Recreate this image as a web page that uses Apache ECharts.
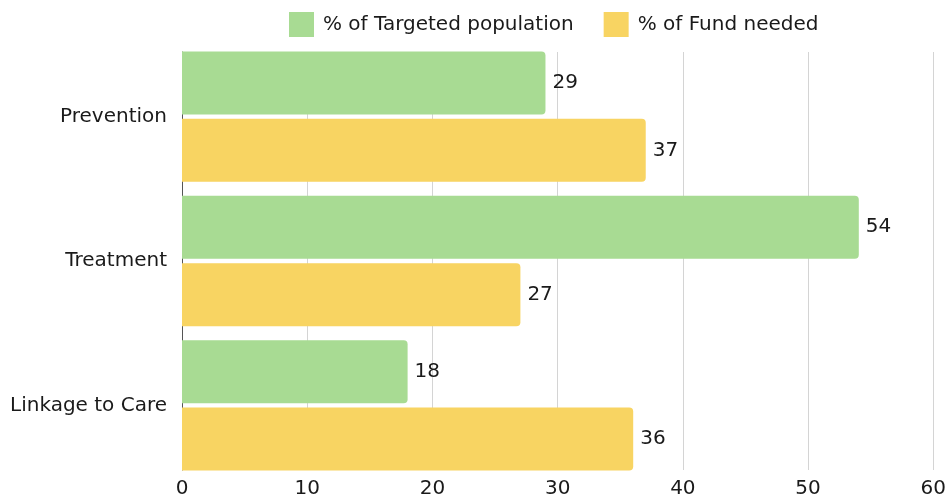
<!DOCTYPE html>
<html>
<head>
<meta charset="utf-8">
<script src="https://cdn.jsdelivr.net/npm/echarts@6/dist/echarts.min.js"></script>
<style>
  html, body { margin: 0; padding: 0; background: #fff; }
  #chart { width: 949px; height: 500px; }
</style>
</head>
<body>
<div id="chart"></div>
<script>
const categories = ['Prevention', 'Treatment', 'Linkage to Care']
const targetedPopulation = [29, 54, 18]
const fundNeeded = [37, 27, 36]
const xTicks = { min: 0, max: 60, interval: 10 }

const font = 'DejaVu Sans'
const textColor = '#1a1a1a'

const chart = echarts.init(document.getElementById('chart'))

const barLabel = {
  show: true,
  position: 'right',
  distance: 7,
  color: textColor,
  fontFamily: font,
  fontSize: 20
}

const option = {
  animation: false,
  legend: {
    left: 284,
    top: 7,
    itemWidth: 25,
    itemHeight: 25,
    itemGap: 30,
    icon: 'rect',
    textStyle: { color: textColor, fontFamily: font, fontSize: 20, padding: [0, 0, 0, 4] },
    data: ['% of Targeted population', '% of Fund needed']
  },
  grid: [
    // grid lines / x labels
    { left: 182, right: 15, top: 52, bottom: 30 },
    // bars
    { left: 182, right: 15, top: 44.5, bottom: 22.5 }
  ],
  xAxis: [
    {
      gridIndex: 0,
      type: 'value',
      min: xTicks.min,
      max: xTicks.max,
      interval: xTicks.interval,
      axisLine: { show: false },
      axisTick: { show: false },
      axisLabel: { color: textColor, fontFamily: font, fontSize: 20, margin: 9 },
      splitLine: { lineStyle: { color: '#d4d4d4', width: 1 } }
    },
    {
      gridIndex: 1,
      type: 'value',
      min: xTicks.min,
      max: xTicks.max,
      interval: xTicks.interval,
      show: false,
      splitLine: { show: false }
    }
  ],
  yAxis: [
    {
      gridIndex: 0,
      type: 'category',
      data: categories,
      inverse: true,
      axisLine: { show: true, lineStyle: { color: '#555', width: 1 } },
      axisTick: { show: false },
      axisLabel: { show: false }
    },
    {
      gridIndex: 1,
      type: 'category',
      data: categories,
      inverse: true,
      axisLine: { show: false },
      axisTick: { show: false },
      axisLabel: { color: textColor, fontFamily: font, fontSize: 20, margin: 15 }
    }
  ],
  series: [
    {
      name: '% of Targeted population',
      type: 'bar',
      xAxisIndex: 1,
      yAxisIndex: 1,
      data: targetedPopulation,
      barWidth: 63,
      barGap: '7%',
      itemStyle: { color: '#a8db93', borderRadius: [0, 4, 4, 0] },
      label: barLabel
    },
    {
      name: '% of Fund needed',
      type: 'bar',
      xAxisIndex: 1,
      yAxisIndex: 1,
      data: fundNeeded,
      barWidth: 63,
      barGap: '7%',
      itemStyle: { color: '#f8d462', borderRadius: [0, 4, 4, 0] },
      label: barLabel
    }
  ]
}

chart.setOption(option)
</script>
</body>
</html>
